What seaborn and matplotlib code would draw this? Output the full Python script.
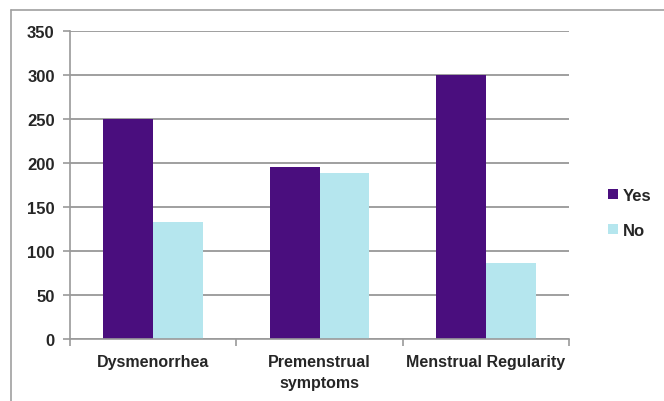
import pandas as pd
import matplotlib
matplotlib.use("Agg")
import matplotlib.pyplot as plt
from matplotlib.lines import Line2D
import seaborn as sns

# -------------------------
# Data
# -------------------------
categories = ["Dysmenorrhea", "Premenstrual\nsymptoms", "Menstrual Regularity"]
yes_values = [250, 196, 300]
no_values = [133, 189, 86]
series = ["Yes", "No"]
y_ticks = [0, 50, 100, 150, 200, 250, 300, 350]

df = pd.DataFrame({
    "Category": categories * 2,
    "Answer": ["Yes"] * 3 + ["No"] * 3,
    "Count": yes_values + no_values,
})

sns.set_style("white")
plt.rcParams["font.family"] = ["Liberation Sans", "DejaVu Sans"]
WEIGHT = "bold"

fig = plt.figure(figsize=(6.64, 4.02), dpi=100)
ax = fig.add_axes([0.1054, 0.154, 0.7516, 0.766])

palette = {"Yes": "#4a0e7e", "No": "#b5e6ee"}
sns.barplot(data=df, x="Category", y="Count", hue="Answer", hue_order=series,
            palette=palette, width=0.6, saturation=1, ax=ax, legend=True,
            linewidth=0, edgecolor="none")

ax.set_ylim(0, 350)
ax.set_xlim(-0.5, len(categories) - 0.5)
ax.set_yticks(y_ticks)
ax.yaxis.grid(True, color="#8f8f8f", linewidth=1.2)
ax.set_axisbelow(True)
ax.set_xlabel("")
ax.set_ylabel("")

for side in ["top", "right"]:
    ax.spines[side].set_visible(False)
for side in ["left", "bottom"]:
    ax.spines[side].set_color("#9a9a9a")
    ax.spines[side].set_linewidth(1.2)

# category-boundary tick marks, Excel style
ax.set_xticks([i - 0.5 for i in range(len(categories) + 1)], minor=True)
ax.tick_params(axis="x", which="minor", length=5, color="#9a9a9a", width=1.2,
               direction="out", bottom=True)
ax.tick_params(axis="x", which="major", length=0, pad=11)
ax.tick_params(axis="y", length=5, color="#9a9a9a", width=1.2, direction="out",
               pad=6, left=True)

for lbl in ax.get_xticklabels():
    lbl.set_fontsize(11.5)
    lbl.set_fontweight(WEIGHT)
    lbl.set_linespacing(1.5)
for lbl in ax.get_yticklabels():
    lbl.set_fontsize(12)
    lbl.set_fontweight(WEIGHT)

leg = ax.legend(loc="center left", bbox_to_anchor=(1.055, 0.41), frameon=False,
                prop={"weight": WEIGHT, "size": 12}, handlelength=0.6,
                handleheight=0.6, handletextpad=0.3, labelspacing=1.2,
                borderaxespad=0.3)

# outer chart frame (only top and left visible in the crop)
fig.add_artist(Line2D([11 / 664, 11 / 664], [0, 1 - 11 / 402], transform=fig.transFigure,
                      color="#a0a0a0", linewidth=1.2))
fig.add_artist(Line2D([11 / 664, 1], [1 - 11 / 402, 1 - 11 / 402], transform=fig.transFigure,
                      color="#a0a0a0", linewidth=1.2))

fig.savefig("out.png", dpi=100)
